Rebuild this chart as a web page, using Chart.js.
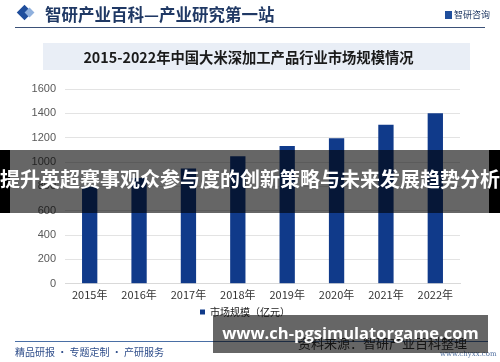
<!DOCTYPE html>
<html>
<head>
<meta charset="utf-8">
<script src="https://cdn.jsdelivr.net/npm/chart.js@4"></script>
<style>
  body { margin: 0; background: #fff; }
  #wrap { position: relative; width: 500px; height: 362px; overflow: hidden; font-family: "Noto Sans CJK SC", sans-serif; }
  #chart { position: absolute; left: 0; top: 0; }
  .abs { position: absolute; white-space: nowrap; }
  #diamond { left: 19px; top: 7px; width: 11px; height: 11px; background: #1f4e9c; transform: rotate(45deg); }
  #diamond2 { left: 26px; top: 9px; width: 7px; height: 7px; background: #8fb0dd; transform: rotate(45deg); }
  #head { left: 45px; top: 2px; font-size: 16.5px; color: #1f3864; font-weight: bold; }
  #logo { left: 445px; top: 8px; font-size: 9px; color: #1f3864; }
  #logo span { display: inline-block; width: 7px; height: 8px; background: #1f4e9c; margin-right: 2px; vertical-align: -1px; }
  #hline { left: 15px; top: 27px; width: 470px; height: 1px; background: #3b5178; }
  #tbox { left: 43px; top: 43px; width: 427px; height: 27px; background: #e9eef6; }
  #title { left: 35px; top: 43px; width: 427px; line-height: 27px; text-align: center; font-size: 14.3px; font-weight: bold; color: #1a1a1a; }
  #fline { left: 15px; top: 341px; width: 473px; height: 1px; background: #4a6fa5; }
  #fleft { left: 15px; top: 344px; font-size: 10px; color: #2e4d8a; }
  #src { left: 298px; top: 333px; font-size: 13px; color: #333; }
  #site { left: 440px; top: 350px; font-size: 7px; color: #5070a0; font-family: "DejaVu Serif", serif; }
  #edgeL { left: 0; top: 150px; width: 10px; height: 63px; background: #000; }
  #edgeR { left: 489px; top: 150px; width: 11px; height: 63px; background: #000; }
  #band1in { left: 10px; top: 150px; width: 479px; height: 63px; background: rgba(0,0,0,0.6); }
  #band1txt { left: 0; top: 150px; width: 500px; line-height: 58px; text-align: center; font-size: 20px; font-weight: bold; color: #fff; }
  #band2 { left: 213px; top: 315px; width: 275px; height: 38px; background: rgba(0,0,0,0.6); }
  #band2txt { left: 213px; top: 315px; width: 275px; line-height: 36px; text-align: center; font-size: 16.5px; font-weight: bold; color: #fff; font-family: "Open Sans", sans-serif; }
</style>
</head>
<body>
<div id="wrap">
  <canvas id="chart" width="500" height="362"></canvas>
  <div class="abs" id="diamond"></div>
  <div class="abs" id="diamond2"></div>
  <div class="abs" id="head">智研产业百科—产业研究第一站</div>
  <div class="abs" id="logo"><span></span>智研咨询</div>
  <div class="abs" id="hline"></div>
  <div class="abs" id="tbox"></div>
  <div class="abs" id="title">2015-2022年中国大米深加工产品行业市场规模情况</div>
  <div class="abs" id="fline"></div>
  <div class="abs" id="fleft">精品研报 · 专题定制 · 产研服务</div>
  <div class="abs" id="src">资料来源：智研产业百科整理</div>
  <div class="abs" id="site">www.chyxx.com</div>
  <div class="abs" id="edgeL"></div>
  <div class="abs" id="edgeR"></div>
  <div class="abs" id="band1in"></div>
  <div class="abs" id="band1txt">提升英超赛事观众参与度的创新策略与未来发展趋势分析</div>
  <div class="abs" id="band2"></div>
  <div class="abs" id="band2txt">www.ch-pgsimulatorgame.com</div>
</div>
<script>
// data
const years = ['2015年', '2016年', '2017年', '2018年', '2019年', '2020年', '2021年', '2022年'];
const marketSize = [800, 870, 946, 1047, 1131, 1195, 1306, 1400];
const seriesName = '市场规模（亿元）';
const yMax = 1600;
const yStep = 200;

const ctx = document.getElementById('chart');
const chart = new Chart(ctx, {
    type: 'bar',
    data: {
        labels: years,
        datasets: [
            {
                label: seriesName,
                data: marketSize,
                backgroundColor: '#103a8a',
                borderWidth: 0,
                barPercentage: 0.62,
                categoryPercentage: 0.5
            }
        ]
    },
    options: {
        responsive: false,
        animation: false,
        devicePixelRatio: 1,
        layout: { padding: { top: 89, bottom: 35, left: 30, right: 40 } },
        plugins: {
            tooltip: { enabled: false },
            legend: {
                position: 'bottom',
                labels: {
                    boxWidth: 5,
                    boxHeight: 5,
                    padding: 2,
                    color: '#222',
                    font: { size: 10, family: '"Noto Sans CJK SC", sans-serif' }
                }
            }
        },
        scales: {
            x: {
                grid: { display: false, drawTicks: false },
                border: { color: '#d9d9d9' },
                ticks: {
                    color: '#333',
                    padding: 4,
                    font: { size: 11, family: '"Noto Sans CJK SC", sans-serif' }
                }
            },
            y: {
                min: 0,
                max: yMax,
                afterFit: function (scale) { scale.width = 35; },
                grid: { color: '#e3e3e3', drawTicks: false },
                border: { display: false },
                ticks: {
                    stepSize: yStep,
                    padding: 9,
                    color: '#595959',
                    font: { size: 11, family: '"Liberation Sans", sans-serif' },
                    callback: function (value) { return String(value); }
                }
            }
        }
    }
});
</script>
</body>
</html>
